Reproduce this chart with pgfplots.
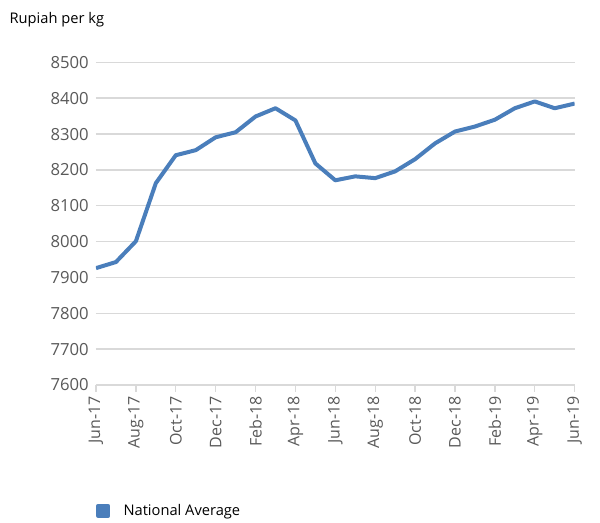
\documentclass[border=0pt]{standalone}
\usepackage{pgfplots}
\pgfplotsset{compat=1.18}
\usepackage{fontspec}
\setmainfont{Open Sans}
\definecolor{lineblue}{RGB}{74,126,187}
\definecolor{txtgrey}{RGB}{89,89,89}
\definecolor{gridgrey}{RGB}{217,217,217}
\begin{document}
\begin{tikzpicture}
\path[use as bounding box] (-72pt,-102.75pt) rectangle (378pt,288.75pt);
\node[anchor=west, font=\fontsize{11}{13}\selectfont, text=black, inner sep=0pt] at (-65pt,274pt) {Rupiah per kg};
\begin{axis}[
 at={(0,0)}, anchor=south west,
 width=359pt, height=242pt, scale only axis,
 xmin=0, xmax=24, ymin=7600, ymax=8500,
 ytick={7600,7700,...,8500},
 xtick={0,2,...,24},
 xticklabels={Jun-17,Aug-17,Oct-17,Dec-17,Feb-18,Apr-18,Jun-18,Aug-18,Oct-18,Dec-18,Feb-19,Apr-19,Jun-19},
 x tick label style={rotate=90, anchor=east, font=\fontsize{12}{14}\selectfont, text=txtgrey},
 y tick label style={font=\fontsize{12.5}{14}\selectfont, text=txtgrey},
 /pgf/number format/assume math mode=true,
 /pgf/number format/set thousands separator={},
 axis x line*=bottom, axis y line*=left,
 x axis line style={gridgrey, line width=1pt, -},
 y axis line style={draw=none},
 xtick style={gridgrey, line width=1pt},
 xtick align=outside, major tick length=5pt,
 ytick style={draw=none},
 ymajorgrids, major grid style={gridgrey, line width=1.1pt},
 yticklabel style={xshift=-2pt},
 legend style={at={(0,-0.39)}, anchor=west, draw=none, fill=none, inner sep=0pt,
   font=\fontsize{11}{13}\selectfont, text=black},
 legend image code/.code={\fill[lineblue] (0pt,-3.75pt) rectangle (7.5pt,3.75pt);},
 legend cell align=left,
]
\addplot[color=lineblue, line width=3pt, line join=round] coordinates {
 (0,7926) (1,7943) (2,8001) (3,8163) (4,8241) (5,8255) (6,8291) (7,8305)
 (8,8349) (9,8372) (10,8338) (11,8218) (12,8171) (13,8182) (14,8177)
 (15,8196) (16,8230) (17,8274) (18,8307) (19,8321) (20,8340) (21,8372)
 (22,8391) (23,8372) (24,8385)
};
\addlegendentry{\hspace{8pt}National Average}
\end{axis}
\end{tikzpicture}
\end{document}
